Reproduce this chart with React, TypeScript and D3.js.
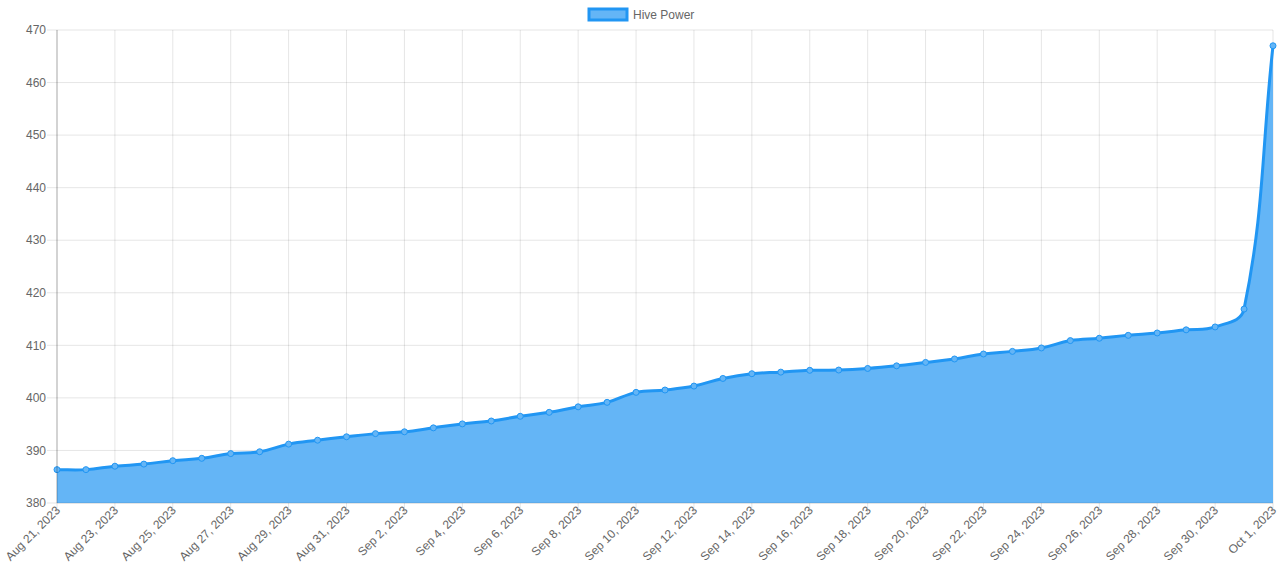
import React from "react";
import * as d3 from "d3";

const dateLabels: string[] = [
  "Aug 21, 2023", "Aug 22, 2023", "Aug 23, 2023", "Aug 24, 2023", "Aug 25, 2023",
  "Aug 26, 2023", "Aug 27, 2023", "Aug 28, 2023", "Aug 29, 2023", "Aug 30, 2023",
  "Aug 31, 2023", "Sep 1, 2023", "Sep 2, 2023", "Sep 3, 2023", "Sep 4, 2023",
  "Sep 5, 2023", "Sep 6, 2023", "Sep 7, 2023", "Sep 8, 2023", "Sep 9, 2023",
  "Sep 10, 2023", "Sep 11, 2023", "Sep 12, 2023", "Sep 13, 2023", "Sep 14, 2023",
  "Sep 15, 2023", "Sep 16, 2023", "Sep 17, 2023", "Sep 18, 2023", "Sep 19, 2023",
  "Sep 20, 2023", "Sep 21, 2023", "Sep 22, 2023", "Sep 23, 2023", "Sep 24, 2023",
  "Sep 25, 2023", "Sep 26, 2023", "Sep 27, 2023", "Sep 28, 2023", "Sep 29, 2023",
  "Sep 30, 2023", "Oct 1, 2023", "Oct 1, 2023",
];

const hivePower: number[] = [
  386.35, 386.35, 387.0, 387.4, 388.05, 388.5, 389.4, 389.75, 391.2, 391.95,
  392.6, 393.2, 393.55, 394.3, 395.05, 395.6, 396.5, 397.25, 398.3, 399.15,
  401.05, 401.5, 402.25, 403.7, 404.6, 404.9, 405.25, 405.3, 405.6, 406.1,
  406.75, 407.4, 408.35, 408.85, 409.5, 410.9, 411.35, 411.9, 412.35, 412.95,
  413.5, 416.9, 467.0,
];

const yTicks: number[] = [380, 390, 400, 410, 420, 430, 440, 450, 460, 470];
const shownTickIdx: number[] = [
  0, 2, 4, 6, 8, 10, 12, 14, 16, 18, 20, 22, 24, 26, 28, 30, 32, 34, 36, 38, 40, 42,
];
const seriesName = "Hive Power";

const W = 1280;
const H = 563;
const left = 57;
const right = 1273;
const top = 30;
const bottom = 503;

const FILL = "#64B5F6";
const STROKE = "#2196F3";
const TEXT = "#666";
const GRID = "rgba(0,0,0,0.1)";
const FONT = "'Liberation Sans', Arial, Helvetica, sans-serif";

type P = { x: number; y: number; cpPx?: number; cpPy?: number; cpNx?: number; cpNy?: number };

function splinePath(pts: P[], t: number): string {
  const clampX = (v: number) => Math.max(left, Math.min(right, v));
  const clampY = (v: number) => Math.max(top, Math.min(bottom, v));
  for (let i = 0; i < pts.length; i++) {
    const cur = pts[i];
    const prev = i > 0 ? pts[i - 1] : cur;
    const next = i < pts.length - 1 ? pts[i + 1] : cur;
    const d01 = Math.hypot(cur.x - prev.x, cur.y - prev.y);
    const d12 = Math.hypot(next.x - cur.x, next.y - cur.y);
    let s01 = d01 / (d01 + d12);
    let s12 = d12 / (d01 + d12);
    if (isNaN(s01)) s01 = 0;
    if (isNaN(s12)) s12 = 0;
    const fa = t * s01;
    const fb = t * s12;
    cur.cpPx = clampX(cur.x - fa * (next.x - prev.x));
    cur.cpPy = clampY(cur.y - fa * (next.y - prev.y));
    cur.cpNx = clampX(cur.x + fb * (next.x - prev.x));
    cur.cpNy = clampY(cur.y + fb * (next.y - prev.y));
  }
  const p = d3.path();
  p.moveTo(pts[0].x, pts[0].y);
  for (let i = 1; i < pts.length; i++) {
    const a = pts[i - 1];
    const b = pts[i];
    p.bezierCurveTo(a.cpNx!, a.cpNy!, b.cpPx!, b.cpPy!, b.x, b.y);
  }
  return p.toString();
}

export default function App() {
  const x = d3.scaleLinear().domain([0, hivePower.length - 1]).range([left, right]);
  const y = d3.scaleLinear().domain([380, 470]).range([bottom, top]);

  const pts: P[] = hivePower.map((v, i) => ({ x: x(i), y: y(v) }));
  const linePath = splinePath(pts, 0.4);
  const areaPath = `${linePath}L${x(hivePower.length - 1)},${y(380)}L${x(0)},${y(380)}Z`;

  return (
    <svg
      width={W}
      height={H}
      style={{ position: "absolute", left: 0, top: 0, fontFamily: FONT }}
    >
      <rect width={W} height={H} fill="#fff" />
      {/* horizontal grid */}
      {yTicks.map((t) => (
        <g key={`y${t}`}>
          <line x1={left - 10} x2={right} y1={y(t)} y2={y(t)} stroke={GRID} strokeWidth={1} />
          <text x={left - 11} y={y(t)} dy="0.35em" textAnchor="end" fontSize={12} fill={TEXT}>
            {t}
          </text>
        </g>
      ))}
      {/* vertical grid */}
      {shownTickIdx.map((i) => (
        <g key={`x${i}`}>
          <line x1={x(i)} x2={x(i)} y1={top} y2={bottom + 10} stroke={GRID} strokeWidth={1} />
          <text
            transform={`translate(${x(i) + 1},${bottom + 5}) rotate(-45)`}
            dy="0.35em"
            textAnchor="end"
            fontSize={12}
            fill={TEXT}
          >
            {dateLabels[i]}
          </text>
        </g>
      ))}
      {/* area + line */}
      <path d={areaPath} fill={FILL} stroke="none" />
      <path d={linePath} fill="none" stroke={STROKE} strokeWidth={3} />
      {pts.map((p, i) => (
        <circle key={`p${i}`} cx={p.x} cy={p.y} r={3} fill={FILL} stroke={STROKE} strokeWidth={1} />
      ))}
      {/* axis borders */}
      <line x1={left} x2={left} y1={top} y2={bottom} stroke="rgba(0,0,0,0.25)" strokeWidth={1} />
      <line x1={left} x2={right} y1={bottom} y2={bottom} stroke="rgba(0,0,0,0.1)" strokeWidth={1} />
      {/* legend */}
      <rect x={589} y={9} width={38} height={11} fill={FILL} stroke={STROKE} strokeWidth={3} />
      <text x={633} y={14.5} dy="0.35em" fontSize={12} fill={TEXT}>
        {seriesName}
      </text>
    </svg>
  );
}
